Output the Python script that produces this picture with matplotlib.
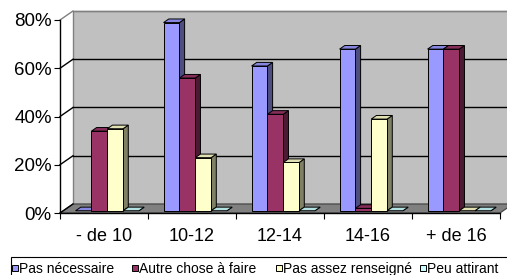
import matplotlib
matplotlib.use("Agg")
import matplotlib.pyplot as plt
from matplotlib.patches import Polygon, Rectangle
import numpy as np

plt.rcParams['font.family'] = ['Liberation Sans', 'DejaVu Sans']

categories = ["- de 10", "10-12", "12-14", "14-16", "+ de 16"]
series = ["Pas nécessaire", "Autre chose à faire", "Pas assez renseigné", "Peu attirant"]
values = {
    "Pas nécessaire":      [0, 78, 60, 67, 67],
    "Autre chose à faire": [33, 55, 40, 1, 67],
    "Pas assez renseigné": [34, 22, 20, 38, 0],
    "Peu attirant":        [0, 0, 0, 0, 0],
}
y_ticks = [0, 20, 40, 60, 80]

front_cols = ["#9999FF", "#993366", "#FFFFCC", "#CCFFFF"]
top_cols = ["#8686E0", "#862D59", "#E0E0B3", "#B3E0E0"]
side_cols = ["#4D4D80", "#4D1A33", "#808066", "#668080"]

W, H = 507, 275
fig = plt.figure(figsize=(W / 100, H / 100), dpi=100)
ax = fig.add_axes([60 / W, (H - 213) / H, 440 / W, 193 / H])
ncat = len(categories)
ax.set_xlim(0, ncat)
ax.set_ylim(0, 80)

# depth of the 3D box in data units
DX = 13 / 88
DY = 9 / 2.41

# back wall and floor
ax.add_patch(Polygon([(DX, DY), (ncat + DX, DY), (ncat + DX, 80 + DY), (DX, 80 + DY)],
                     closed=True, facecolor="#C0C0C0", edgecolor="#808080", lw=1,
                     zorder=0, clip_on=False))
ax.add_patch(Polygon([(0, 0), (ncat, 0), (ncat + DX, DY), (DX, DY)],
                     closed=True, facecolor="#808080", edgecolor="#404040", lw=0.8,
                     zorder=0.5, clip_on=False))
for yv in y_ticks[1:]:
    col = "#808080" if yv == 80 else "black"
    ax.plot([DX, ncat + DX], [yv + DY, yv + DY], color=col, lw=1, zorder=0.6, clip_on=False)
    ax.plot([0, DX], [yv, yv + DY], color=col, lw=1, zorder=0.6, clip_on=False)
ax.plot([0, DX], [0, DY], color="black", lw=1, zorder=0.6, clip_on=False)

# bars with fake 3D faces
bw = 0.18
start = 0.14
fdx, fdy = 0.25 * DX, 0.25 * DY
bdx, bdy = 0.65 * DX, 0.65 * DY
k = 0
for i in range(ncat):
    for j, s in enumerate(series):
        h = values[s][i]
        x0 = i + start + j * bw
        z = 2 + k * 0.01
        side = [(x0 + bw + fdx, fdy), (x0 + bw + bdx, bdy),
                (x0 + bw + bdx, h + bdy), (x0 + bw + fdx, h + fdy)]
        top = [(x0 + fdx, h + fdy), (x0 + bdx, h + bdy),
               (x0 + bw + bdx, h + bdy), (x0 + bw + fdx, h + fdy)]
        ax.add_patch(Polygon(side, closed=True, facecolor=side_cols[j], edgecolor="black",
                             lw=0.7, zorder=z, clip_on=False))
        ax.add_patch(Polygon(top, closed=True, facecolor=top_cols[j], edgecolor="black",
                             lw=0.7, zorder=z, clip_on=False))
        if h > 0:
            ax.bar(x0 + fdx, h, width=bw, bottom=fdy, align="edge", color=front_cols[j],
                   edgecolor="black", lw=0.7, zorder=z + 0.005, clip_on=False)
        k += 1

# axes
for sp in ["top", "right"]:
    ax.spines[sp].set_visible(False)
for sp in ["left", "bottom"]:
    ax.spines[sp].set_color("black")
    ax.spines[sp].set_linewidth(1)
    ax.spines[sp].set_zorder(5)
ax.set_yticks(y_ticks)
ax.set_yticklabels([f"{v}%" for v in y_ticks], fontsize=13.5)
ax.set_xticks(np.arange(ncat + 1))
ax.set_xticklabels([])
ax.set_xticks(np.arange(ncat) + 0.5, minor=True)
ax.set_xticklabels(categories, minor=True, fontsize=13)
ax.tick_params(axis="x", which="major", length=4, direction="out", color="black")
ax.tick_params(axis="x", which="minor", length=0, pad=11)
ax.tick_params(axis="y", length=4, direction="out", pad=2, color="black")
ax.patch.set_visible(False)

# legend drawn by hand (runs off the right edge like the original)
fig.add_artist(Rectangle((11 / W, -0.05), 1.0, (H - 257) / H + 0.05,
                         transform=fig.transFigure, facecolor="white",
                         edgecolor="black", lw=0.8))
leg_x = [12, 132, 276, 420]
for j, s in enumerate(series):
    fig.add_artist(Rectangle((leg_x[j] / W, (H - 271) / H), 6 / W, 6 / H,
                             transform=fig.transFigure, facecolor=front_cols[j],
                             edgecolor="black", lw=0.7))
    fig.text((leg_x[j] + 7) / W, (H - 273) / H, s, fontsize=10, va="baseline", ha="left")

fig.savefig("out.png", dpi=100)
